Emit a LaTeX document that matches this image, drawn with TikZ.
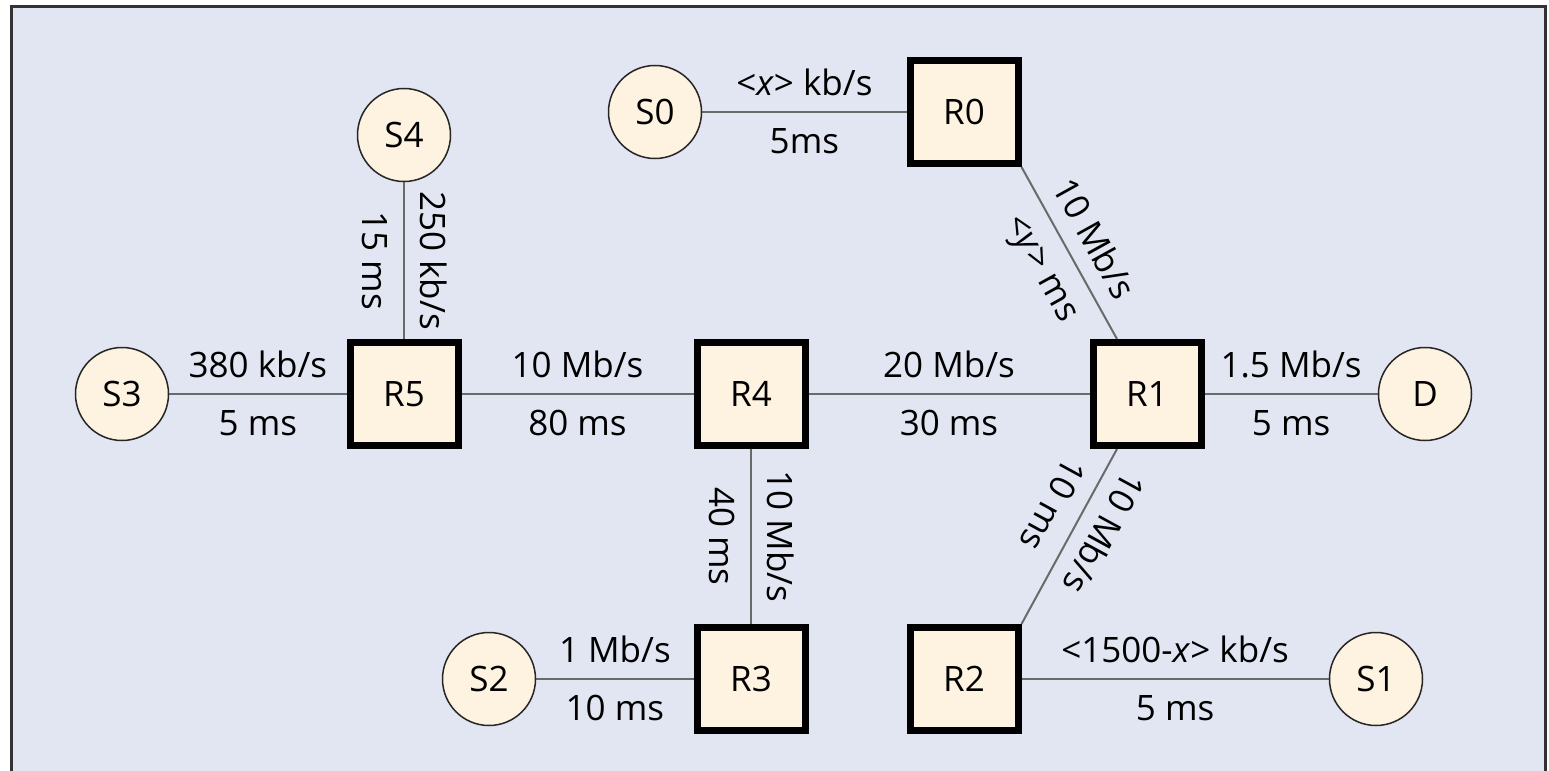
\documentclass[tikz,border=0pt]{standalone}
\usepackage{fontspec}
\setmainfont{Open Sans}
\usetikzlibrary{calc}
\pgfdeclarelayer{bg}
\pgfdeclarelayer{links}
\pgfsetlayers{bg,links,main}
\definecolor{panel}{HTML}{E2E6F2}
\definecolor{nodefill}{HTML}{FEF2E1}
\definecolor{linkgray}{HTML}{6A6A6A}
\definecolor{framegray}{HTML}{333333}
\begin{document}
\begin{tikzpicture}[x=0.5pt,y=-0.5pt,
  router/.style={draw=black, line width=3.5pt, fill=nodefill, minimum width=54pt,
    minimum height=51.5pt, inner sep=0pt, font=\fontsize{17.5}{20}\selectfont},
  host/.style={circle, draw=black!85, line width=0.75pt, fill=nodefill,
    minimum size=46.5pt, inner sep=0pt, font=\fontsize{17.5}{20}\selectfont},
  link/.style={draw=linkgray, line width=1pt},
  lbl/.style={font=\fontsize{17.5}{20}\selectfont, inner xsep=0pt, inner ysep=7.75pt,
    text height=12.5pt, text depth=0pt, sloped, allow upside down, midway},
  bw/.style={lbl, above},
  dl/.style={lbl, below}]
\useasboundingbox (0,0) rectangle (1549,771);
\begin{pgfonlayer}{bg}
  \fill[panel] (11,6) rectangle (1545,771);
  \draw[framegray, line width=1.5pt] (11,771) -- (11,6) -- (1545,6) -- (1545,771);
\end{pgfonlayer}
% nodes
\node[host]   (S0) at (655,112)  {S0};
\node[router] (R0) at (964,112)  {R0};
\node[host]   (S4) at (404,135)  {S4};
\node[host]   (S3) at (122,394)  {S3};
\node[router] (R5) at (404,394)  {R5};
\node[router] (R4) at (751,394)  {R4};
\node[router] (R1) at (1147,394) {R1};
\node[host]   (D)  at (1425,394) {D};
\node[host]   (S2) at (489,679)  {S2};
\node[router] (R3) at (751,679)  {R3};
\node[router] (R2) at (964,679)  {R2};
\node[host]   (S1) at (1376,679) {S1};
% links
\begin{pgfonlayer}{links}
  \draw[link] (S0) -- (R0) node[bw] {<\textit{x}> kb/s} node[dl] {5ms};
  \draw[link] (S4) -- (R5) node[bw] {250 kb/s} node[dl] {15 ms};
  \draw[link] (S3) -- (R5) node[bw] {380 kb/s} node[dl] {5 ms};
  \draw[link] (R5) -- (R4) node[bw] {10 Mb/s} node[dl] {80 ms};
  \draw[link] (R4) -- (R1) node[bw] {20 Mb/s} node[dl] {30 ms};
  \draw[link] (R1) -- (D)  node[bw] {1.5 Mb/s} node[dl] {5 ms};
  \draw[link] (R4) -- (R3) node[bw] {10 Mb/s} node[dl] {40 ms};
  \draw[link] (S2) -- (R3) node[bw] {1 Mb/s} node[dl] {10 ms};
  \draw[link] (R2) -- (S1) node[bw] {<1500-\textit{x}> kb/s} node[dl] {5 ms};
  \draw[link] (R0.south east) -- ([xshift=-15pt]R1.north)
    node[bw] {10 Mb/s} node[dl] {<\textit{y}> ms};
  \draw[link] ([xshift=-15pt]R1.south) -- (R2.north east)
    node[bw, pos=0.4] {10 Mb/s} node[dl, pos=0.4] {10 ms};
\end{pgfonlayer}
\end{tikzpicture}
\end{document}
